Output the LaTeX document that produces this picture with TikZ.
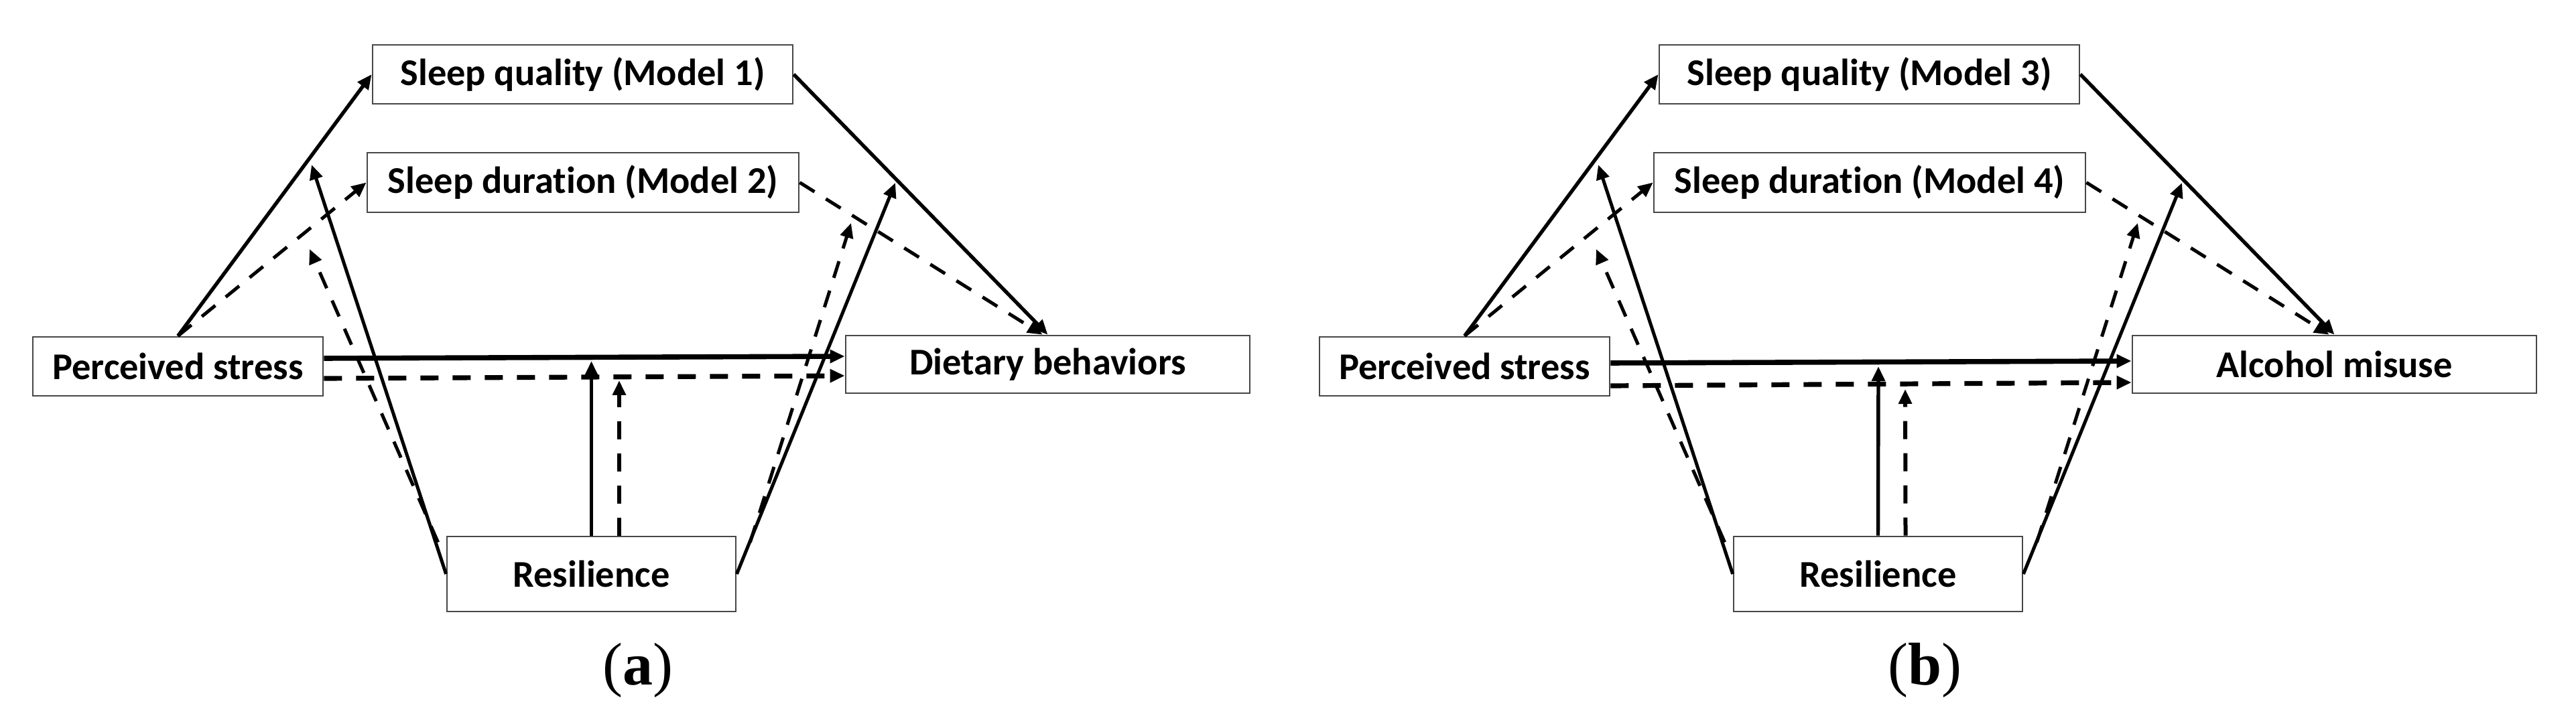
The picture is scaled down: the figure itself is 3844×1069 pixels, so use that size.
\documentclass[tikz,border=0pt]{standalone}
\usepackage{fontspec}
\setmainfont{Carlito}[Ligatures=NoCommon]
\newfontfamily\capfont{Liberation Serif}
\usetikzlibrary{arrows.meta,calc}
\tikzset{
  box/.style={draw=black!72, line width=0.7pt, fill=white, inner sep=0pt,
    font=\fontsize{14.1}{16}\selectfont\bfseries, align=center},
  arr/.style={-{Triangle[length=5.5pt,width=4.8pt]}},
  pathsolid/.style={arr, line width=1.35pt},
  pathdash/.style={arr, line width=1.25pt, dash pattern=on 6.5pt off 5pt},
  direct/.style={arr, line width=1.9pt},
  directdash/.style={arr, line width=1.8pt, dash pattern=on 6.75pt off 5.25pt},
  modsolid/.style={arr, line width=1.25pt},
  moddash/.style={arr, line width=1.25pt, dash pattern=on 6.5pt off 5pt},
  vsolid/.style={arr, line width=1.35pt},
  vdash/.style={arr, line width=1.5pt, dash pattern=on 6.75pt off 5.25pt},
  panellabel/.style={font=\capfont\fontsize{22.5}{27}\selectfont, anchor=base, inner sep=0pt},
}
\begin{document}
\begin{tikzpicture}[x=0.25pt, y=-0.25pt]
\useasboundingbox (0,0) rectangle (3844,1069);

% ---------------- Panel (a) ----------------
\node[box, minimum width=156.75pt, minimum height=22pt] (a-sq) at (869.5,111) {Sleep quality (Model 1)};
\node[box, minimum width=161pt, minimum height=22.25pt] (a-sd) at (870,272.5) {Sleep duration (Model 2)};
\node[box, minimum width=108.25pt, minimum height=22pt] (a-ps) at (265.5,547) {Perceived stress};
\node[box, minimum width=150.75pt, minimum height=21.5pt] (a-out) at (1563.5,544) {Dietary behaviors};
\node[box, minimum width=107.75pt, minimum height=28pt] (a-res) at (882.5,857) {Resilience};
\node[panellabel] (a-lab) at (952,1022) {(\textbf{a})};

\coordinate (a-m1) at (465,246);
\coordinate (a-m2) at (462,372);
\coordinate (a-m3) at (1336,273);
\coordinate (a-m4) at (1270,333);
\coordinate (a-v1) at (882.5,539);
\coordinate (a-v2) at (924,568);

\draw[pathsolid] (a-ps.north) -- (a-sq.west);
\draw[pathdash] (a-ps.north) -- (a-sd.west);
\draw[pathsolid] (a-sq.east) -- (a-out.north);
\draw[pathdash] (a-sd.east) -- ([xshift=-2pt]a-out.north);

\draw[direct] ([shift={(0,-12)}]a-ps.east) -- ([shift={(0,-12)}]a-out.west);
\draw[directdash] ([shift={(0,18)}]a-ps.east) -- ([shift={(0,17)}]a-out.west);

\draw[modsolid] (a-res.west) -- (a-m1);
\draw[moddash] ([shift={(-12,10)}]a-res.north west) -- (a-m2);
\draw[modsolid] (a-res.east) -- (a-m3);
\draw[moddash] ([shift={(20,10)}]a-res.north east) -- (a-m4);

\draw[vsolid] (a-res.north) -- (a-v1);
\draw[vdash] ([shift={(41.5,0)}]a-res.north) -- (a-v2);

% ---------------- Panel (b) ----------------
\begin{scope}[xshift=480pt]
\node[box, minimum width=156.75pt, minimum height=22pt] (b-sq) at (869.5,111) {Sleep quality (Model 3)};
\node[box, minimum width=161pt, minimum height=22.25pt] (b-sd) at (870,272.5) {Sleep duration (Model 4)};
\node[box, minimum width=108.25pt, minimum height=22pt] (b-ps) at (265.5,547) {Perceived stress};
\node[box, minimum width=150.75pt, minimum height=21.5pt] (b-out) at (1563.5,544) {Alcohol misuse};
\node[box, minimum width=107.75pt, minimum height=28pt] (b-res) at (882.5,857) {Resilience};
\node[panellabel] (b-lab) at (952,1022) {(\textbf{b})};

\coordinate (b-m1) at (465,246);
\coordinate (b-m2) at (462,372);
\coordinate (b-m3) at (1336,273);
\coordinate (b-m4) at (1270,333);
\coordinate (b-v1) at (883,547);
\coordinate (b-v2) at (923,581);

\draw[pathsolid] (b-ps.north) -- (b-sq.west);
\draw[pathdash] (b-ps.north) -- (b-sd.west);
\draw[pathsolid] (b-sq.east) -- (b-out.north);
\draw[pathdash] (b-sd.east) -- ([xshift=-2pt]b-out.north);

\draw[direct] ([shift={(0,-5)}]b-ps.east) -- ([shift={(0,-5)}]b-out.west);
\draw[directdash] ([shift={(0,29)}]b-ps.east) -- ([shift={(0,27)}]b-out.west);

\draw[modsolid] (b-res.west) -- (b-m1);
\draw[moddash] ([shift={(-12,10)}]b-res.north west) -- (b-m2);
\draw[modsolid] (b-res.east) -- (b-m3);
\draw[moddash] ([shift={(20,10)}]b-res.north east) -- (b-m4);

\draw[vsolid] (b-res.north) -- (b-v1);
\draw[vdash] ([shift={(41,0)}]b-res.north) -- (b-v2);
\end{scope}
\end{tikzpicture}
\end{document}
